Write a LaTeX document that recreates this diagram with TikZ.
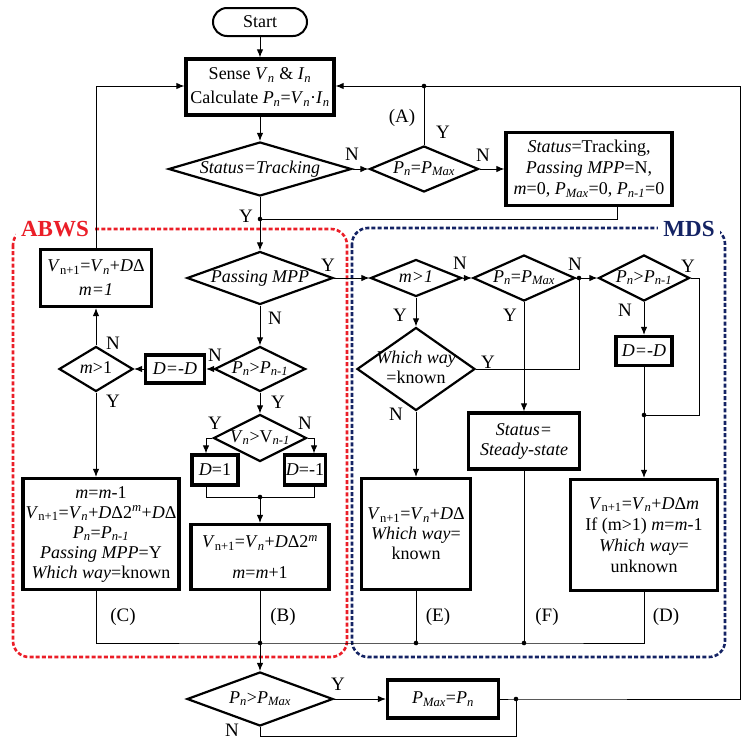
\documentclass[tikz,border=0pt]{standalone}
\usepackage{fontspec}
\setmainfont{Liberation Serif}
\usetikzlibrary{shapes.geometric,arrows.meta}
\definecolor{abws}{RGB}{235,30,40}
\definecolor{mds}{RGB}{20,35,100}
\newcommand{\iv}[2]{\textit{#1}\textsubscript{\textit{#2}}}
\newcommand{\Vnp}{\textit{V}\textsubscript{n+1}}
\newcommand{\dtext}[1]{\makebox[0pt]{\begin{tabular}{@{}c@{}}#1\end{tabular}}}
\begin{document}
\begin{tikzpicture}[x=1pt,y=-1pt,font=\fontsize{18}{20}\selectfont,
  box/.style={draw, rectangle, line width=3.2pt, inner sep=0pt, align=center, fill=white},
  dia/.style={draw, diamond, line width=2.2pt, inner sep=0pt, fill=white},
  conn/.style={line width=1pt},
  arr/.style={line width=1pt, -{Latex[length=8pt,width=6.5pt]}},
  lbl/.style={inner sep=0pt, font=\fontsize{19}{20}\selectfont},
  zone/.style={line width=2.6pt, dash pattern=on 4pt off 2.2pt, rounded corners=16pt},
  zlabel/.style={fill=white, inner xsep=5pt, inner ysep=4pt, font=\fontsize{23}{24}\selectfont\bfseries}]
\useasboundingbox (0,0) rectangle (747,747);
% zones
\draw[zone, abws] (13,229) rectangle (347,657);
\draw[zone, mds] (352,228) rectangle (725,657);
\node[zlabel, text=abws] (labws) at (55,229) {ABWS};
\node[zlabel, text=mds] (lmds) at (689,229) {MDS};
% top part
\node[draw, line width=2pt, rounded corners=14pt, minimum width=94pt, minimum height=28pt, inner sep=0pt] (start) at (260,22) {Start};
\node[box, minimum width=148pt, minimum height=56pt] (sense) at (260,87)
  {Sense \iv{V}{n} \& \iv{I}{n}\\[4pt]Calculate \iv{P}{n}=\iv{V}{n}·\iv{I}{n}};
\node[dia, minimum width=183pt, minimum height=54pt] (status) at (260,169) {\dtext{\textit{Status=Tracking}}};
\node[dia, minimum width=109pt, minimum height=46pt] (pmaxA) at (424,169) {\dtext{\iv{P}{n}=\iv{P}{Max}}};
\node[box, minimum width=166pt, minimum height=73pt] (reset) at (589,169)
  {\textit{Status}=Tracking,\\[1pt]\textit{Passing MPP}=N,\\[1pt]\textit{m}=0, \iv{P}{Max}=0, \iv{P}{n-1}=0};
\node[dia, minimum width=146pt, minimum height=53pt] (pass) at (260,278) {\dtext{\textit{Passing MPP}}};
% ABWS
\node[box, minimum width=111pt, minimum height=57pt] (m1a) at (96,278)
  {\Vnp=\iv{V}{n}+\textit{D}Δ\\[4pt]\textit{m=1}};
\node[dia, minimum width=74pt, minimum height=45pt] (m1dia) at (96,369) {\dtext{\textit{m}>1}};
\node[box, minimum width=59pt, minimum height=28pt] (dnegA) at (175,369) {\textit{D=-D}};
\node[dia, minimum width=91pt, minimum height=45pt] (pcmpA) at (260,369) {\dtext{\iv{P}{n}>\iv{P}{n-1}}};
\node[dia, minimum width=93pt, minimum height=47pt] (vcmp) at (260,438) {\dtext{\iv{V}{n}>V\textsubscript{\textit{n-1}}}};
\node[box, minimum width=46pt, minimum height=30pt] (d1) at (215,470) {\textit{D}=1};
\node[box, minimum width=41pt, minimum height=30pt] (dm1) at (305,470) {\textit{D}=-1};
\node[box, minimum width=138pt, minimum height=65pt] (B) at (260,557)
  {\Vnp=\iv{V}{n}+\textit{D}Δ2\textsuperscript{\textit{m}}\\[11pt]\textit{m}=\textit{m}+1};
\node[box, minimum width=156pt, minimum height=111pt] (C) at (101,534)
  {\textit{m}=\textit{m}-1\\\Vnp=\iv{V}{n}+\textit{D}Δ2\textsuperscript{\textit{m}}+\textit{D}Δ\\\iv{P}{n}=\iv{P}{n-1}\\\textit{Passing MPP}=Y\\\textit{Which way}=known};
% MDS
\node[dia, minimum width=91pt, minimum height=37pt] (m1b) at (416,278) {\dtext{\textit{m>1}}};
\node[dia, minimum width=102pt, minimum height=46pt] (pmaxB) at (524,278) {\dtext{\iv{P}{n}=\iv{P}{Max}}};
\node[dia, minimum width=91pt, minimum height=46pt] (pcmpB) at (644,278) {\dtext{\iv{P}{n}>\iv{P}{n-1}}};
\node[box, minimum width=56pt, minimum height=29pt] (dnegB) at (644,351) {\textit{D=-D}};
\node[dia, minimum width=118pt, minimum height=83pt] (which) at (416,369) {\dtext{\textit{Which way}\\=known}};
\node[box, minimum width=111pt, minimum height=56pt] (steady) at (524,441) {\textit{Status=}\\\textit{Steady-state}};
\node[box, minimum width=109pt, minimum height=111pt] (E) at (416,534)
  {\Vnp=\iv{V}{n}+\textit{D}Δ\\\textit{Which way}=\\known};
\node[box, minimum width=147pt, minimum height=111pt] (Dbox) at (644,535)
  {\Vnp=\iv{V}{n}+\textit{D}Δ\textit{m}\\[1pt]If (m>1) \textit{m}=\textit{m}-1\\[1pt]\textit{Which way}=\\[1pt]unknown};
% bottom
\node[dia, minimum width=146pt, minimum height=54pt] (pgt) at (260,699) {\dtext{\iv{P}{n}>\iv{P}{Max}}};
\node[box, minimum width=111pt, minimum height=38pt] (pmaxset) at (443,699) {\iv{P}{Max}=\iv{P}{n}};
% junctions
\coordinate (jY) at (260,219);
\coordinate (jA) at (424,86);
\coordinate (jN) at (579,278);
\coordinate (jD) at (644,415);
\coordinate (jVD) at (260,497);
\coordinate (jB) at (260,643);
\coordinate (jE) at (416,643);
\coordinate (jF) at (524,643);
\coordinate (jM) at (516,699);
\coordinate (rb) at (740,699);
\coordinate (rt) at (740,86);
% connectors top
\draw[arr] (start) -- (sense);
\draw[arr] (sense) -- (status);
\draw[arr] (status) -- (pmaxA);
\draw[arr] (pmaxA) -- (reset);
\draw[conn] (status.south) -- (jY);
\draw[conn] ([xshift=28pt]reset.south) |- (jY);
\draw[arr] (jY) -- (pass);
\draw[conn] (pmaxA.north) -- (jA);
\draw[arr] (pmaxset.east) -- (jM) -- (rb) -- (rt) -- (sense.east |- rt);
% ABWS connectors
\draw[arr] (pass) -- (pcmpA);
\draw[arr] (pcmpA) -- (dnegA);
\draw[arr] (dnegA) -- (m1dia);
\draw[arr] (m1dia) -- (m1a);
\draw[arr] (m1a.north) |- (sense.west |- rt);
\draw[arr] (m1dia.south) -- (m1dia.south |- C.north);
\draw[arr] (pcmpA) -- (vcmp);
\draw[arr] (vcmp.west) -| ([xshift=-9pt]d1.north);
\draw[arr] (vcmp.east) -| ([xshift=9pt]dm1.north);
\draw[conn] ([xshift=-9pt]d1.south) |- (jVD);
\draw[conn] ([xshift=9pt]dm1.south) |- (jVD);
\draw[arr] (jVD) -- (B);
% MDS connectors
\draw[arr] (pass) -- (m1b);
\draw[arr] (m1b) -- (pmaxB);
\draw[conn] (pmaxB) -- (jN);
\draw[arr] (jN) -- (pcmpB);
\draw[conn] (jN) |- (which.east);
\draw[arr] (m1b) -- (which);
\draw[arr] (pmaxB) -- (steady);
\draw[arr] (which) -- (E);
\draw[arr] (pcmpB) -- (dnegB);
\draw[conn] (pcmpB.east) -- ++(9,0) |- (jD);
\draw[conn] (dnegB) -- (jD);
\draw[arr] (jD) -- (Dbox);
% collecting line
\draw[conn] (C.south -| m1dia) |- (jB) -- (jE) -- (jF) -| (Dbox.south);
\draw[conn] (B) -- (jB);
\draw[conn] (E) -- (jE);
\draw[conn] (steady) -- (jF);
\draw[arr] (jB) -- (pgt);
\draw[arr] (pgt) -- (pmaxset);
\draw[conn] (pgt.south) -- ++(0,9) -| (jM);
% dots
\foreach \p in {jY,jA,jN,jD,jVD,jB,jE,jF,jM} \fill (\p) circle (2.3pt);
% labels
\node[lbl] (l1) at (246,216) {Y};
\node[lbl] (l2) at (352,154) {N};
\node[lbl] (l3) at (402,118) {(A)};
\node[lbl] (l4) at (443,132) {Y};
\node[lbl] (l5) at (483,155) {N};
\node[lbl] (l6) at (328,265) {Y};
\node[lbl] (l7) at (275,318) {N};
\node[lbl] (l8) at (113,343) {N};
\node[lbl] (l9) at (113,401) {Y};
\node[lbl] (l10) at (215,355) {N};
\node[lbl] (l11) at (278,402) {Y};
\node[lbl] (l12) at (215,423) {Y};
\node[lbl] (l13) at (305,423) {N};
\node[lbl] (l14) at (123,617) {(C)};
\node[lbl] (l15) at (283,617) {(B)};
\node[lbl] (l16) at (438,617) {(E)};
\node[lbl] (l17) at (547,617) {(F)};
\node[lbl] (l18) at (666,617) {(D)};
\node[lbl] (l19) at (460,263) {N};
\node[lbl] (l20) at (575,264) {N};
\node[lbl] (l21) at (400,315) {Y};
\node[lbl] (l22) at (510,315) {Y};
\node[lbl] (l23) at (488,362) {Y};
\node[lbl] (l24) at (396,414) {N};
\node[lbl] (l25) at (688,266) {Y};
\node[lbl] (l26) at (625,310) {N};
\node[lbl] (l27) at (338,684) {Y};
\node[lbl] (l28) at (232,730) {N};
\end{tikzpicture}
\end{document}
